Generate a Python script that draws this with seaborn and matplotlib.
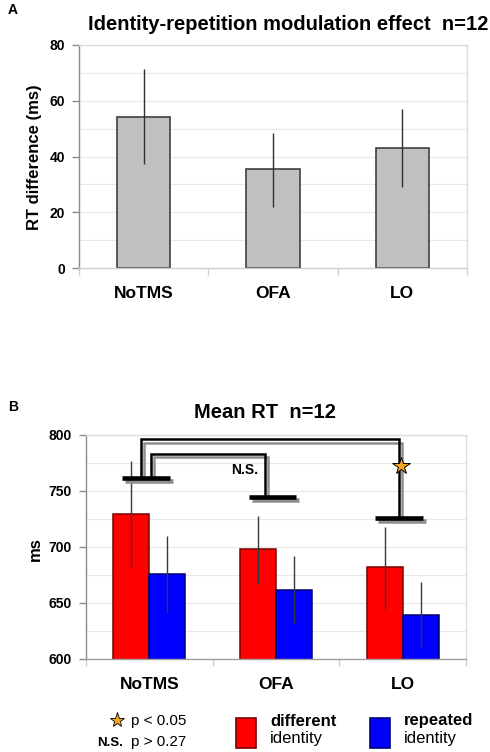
import seaborn as sns
import matplotlib.pyplot as plt
import matplotlib.patheffects as pe
from matplotlib.patches import Rectangle
from matplotlib.lines import Line2D
import pandas as pd
import numpy as np

# Panel A: identity-repetition modulation effect (ms)
conditions = ["NoTMS", "OFA", "LO"]
mod_effect = [54.3, 35.5, 43.2]
mod_err_low = [37.2, 22.0, 29.0]
mod_err_high = [71.3, 48.5, 57.0]

# Panel B: mean RT (ms) for different / repeated identity
identities = ["different", "repeated"]
rt_different = [729.5, 698.0, 682.0]
rt_different_low = [682.0, 667.0, 645.0]
rt_different_high = [777.0, 728.0, 718.0]
rt_repeated = [676.0, 662.0, 639.0]
rt_repeated_low = [641.0, 632.0, 610.0]
rt_repeated_high = [710.0, 692.0, 669.0]

# significance bracket levels (ms)
base_levels = [762.0, 745.0, 725.5]
outer_top = 796.0
inner_top = 783.0

sns.set_style("white")
plt.rcParams['font.family'] = ['Liberation Sans', 'DejaVu Sans']
plt.rcParams['text.color'] = 'black'
plt.rcParams['xtick.labelcolor'] = 'black'
plt.rcParams['ytick.labelcolor'] = 'black'

W, H = 490, 752
fig = plt.figure(figsize=(W / 100, H / 100), dpi=100)


def style_axes(ax, ymin, ymax, major, minor):
    ax.set_ylim(ymin, ymax)
    ax.set_xlim(-0.5, 2.5)
    ax.set_yticks(np.arange(ymin, ymax + 1, major))
    ax.set_yticks(np.arange(ymin, ymax + 1, minor), minor=True)
    ax.yaxis.grid(True, which="both", color="#e8e8e8", linewidth=0.8)
    ax.set_axisbelow(True)
    ax.set_xticks([0, 1, 2])
    ax.set_xticklabels(conditions, fontsize=12.5, fontweight="bold", color="black")
    ax.set_xticks([-0.5, 0.5, 1.5, 2.5], minor=True)
    ax.tick_params(axis="x", which="major", bottom=True, length=0, pad=13)
    ax.tick_params(axis="x", which="minor", bottom=True, length=5, color="#cfcfcf", width=1)
    ax.tick_params(axis="y", which="major", left=True, length=5, color="#8c8c8c", width=1,
                   labelsize=10, pad=5)
    ax.tick_params(axis="y", which="minor", left=False, length=0)
    for lab in ax.get_yticklabels():
        lab.set_fontweight("bold")
        lab.set_color("black")
    ax.set_xlabel("")
    ax.set_ylabel("")
    ax.spines["left"].set_color("#8c8c8c")
    ax.spines["bottom"].set_color("#cfcfcf")
    ax.spines["top"].set_color("#dcdcdc")
    ax.spines["right"].set_color("#dcdcdc")
    for s in ax.spines.values():
        s.set_linewidth(1)


# ---------------- Panel A ----------------
ax1 = fig.add_axes([79 / W, 1 - 268 / H, 388 / W, 223 / H])
df_a = pd.DataFrame({"Condition": conditions, "Effect": mod_effect})
sns.barplot(data=df_a, x="Condition", y="Effect", color="#c0c0c0", saturation=1,
            edgecolor="#404040", linewidth=1.2, width=0.41, errorbar=None, ax=ax1)
ax1.vlines(range(len(conditions)), mod_err_low, mod_err_high, color="#303030",
           linewidth=1, zorder=4)
style_axes(ax1, 0, 80, 20, 10)

fig.text(8 / W, 1 - 10 / H, "A", fontsize=10, fontweight="bold", ha="left", va="center")
fig.text(288 / W, 1 - 24 / H, "Identity-repetition modulation effect  n=12",
         fontsize=14.5, fontweight="bold", ha="center", va="center")
fig.text(35 / W, 1 - 157 / H, "RT difference (ms)", fontsize=12, fontweight="bold",
         rotation=90, ha="center", va="center")

# ---------------- Panel B ----------------
ax2 = fig.add_axes([86 / W, 1 - 659 / H, 380 / W, 224 / H])
df_b = pd.DataFrame({
    "Condition": conditions * 2,
    "Identity": [identities[0]] * 3 + [identities[1]] * 3,
    "RT": rt_different + rt_repeated,
})
palette = {"different": "#ff0000", "repeated": "#0000ff"}
sns.barplot(data=df_b, x="Condition", y="RT", hue="Identity", palette=palette,
            saturation=1, width=0.57, errorbar=None, linewidth=1.1, legend=False, ax=ax2)
edges = ["#7a0000", "#000070"]
lows = [rt_different_low, rt_repeated_low]
highs = [rt_different_high, rt_repeated_high]
for cont, ec, lo, hi in zip(ax2.containers, edges, lows, highs):
    xs = []
    for bar in cont:
        bar.set_edgecolor(ec)
        xs.append(bar.get_x() + bar.get_width() / 2)
    ax2.vlines(xs, lo, hi, color="#383838", linewidth=1, zorder=4)
style_axes(ax2, 600, 800, 50, 25)
ax2.spines["bottom"].set_color("#a0a0a0")

# significance brackets with grey drop shadow
shadow = [pe.SimpleLineShadow(offset=(2.2, -2.2), shadow_color="#8f8f8f", alpha=1),
          pe.Normal()]
for i, lvl in enumerate(base_levels):
    ax2.plot([i - 0.215, i + 0.16], [lvl, lvl], color="black", linewidth=3.3,
             solid_capstyle="butt", path_effects=shadow, zorder=6)
ax2.plot([-0.068, -0.068, 1.971, 1.971], [base_levels[0], outer_top, outer_top, base_levels[2]],
         color="black", linewidth=1.8, solid_joinstyle="miter", path_effects=shadow, zorder=5)
ax2.plot([0.011, 0.011, 0.913, 0.913], [base_levels[0], inner_top, inner_top, base_levels[1]],
         color="black", linewidth=1.8, solid_joinstyle="miter", path_effects=shadow, zorder=5)
ax2.plot(1.99, 772, marker="*", markersize=13, markerfacecolor="#f5a623",
         markeredgecolor="black", markeredgewidth=0.7, zorder=7)
ax2.text(0.75, 769, "N.S.", fontsize=10, fontweight="bold", ha="center", va="center", zorder=7)

fig.text(8 / W, 1 - 407 / H, "B", fontsize=10, fontweight="bold", ha="left", va="center")
fig.text(265 / W, 1 - 413 / H, "Mean RT  n=12", fontsize=14.5, fontweight="bold",
         ha="center", va="center")
fig.text(35 / W, 1 - 549 / H, "ms", fontsize=12, fontweight="bold",
         rotation=90, ha="center", va="center")

# ---------------- key ----------------
fig.add_artist(Line2D([117 / W], [1 - 720 / H], marker="*", markersize=11,
                      markerfacecolor="#f5a623", markeredgecolor="black",
                      markeredgewidth=0.6, transform=fig.transFigure))
fig.text(131 / W, 1 - 721 / H, "p < 0.05", fontsize=11, ha="left", va="center")
fig.text(97 / W, 1 - 743 / H, "N.S.", fontsize=9.5, fontweight="bold", ha="left", va="center")
fig.text(131 / W, 1 - 742 / H, "p > 0.27", fontsize=11, ha="left", va="center")

for x0, name, fc, ec in [(236, identities[0], "#ff0000", "#7a0000"),
                         (370, identities[1], "#0000ff", "#000070")]:
    fig.add_artist(Rectangle((x0 / W, 1 - 748 / H), 20 / W, 30 / H, facecolor=fc,
                             edgecolor=ec, linewidth=1.2, transform=fig.transFigure))
    fig.text((x0 + 34) / W, 1 - 721 / H, name, fontsize=12, fontweight="bold",
             ha="left", va="center")
    fig.text((x0 + 34) / W, 1 - 739 / H, "identity", fontsize=12, ha="left", va="center")

fig.savefig("out.png", dpi=100)
plt.close(fig)
